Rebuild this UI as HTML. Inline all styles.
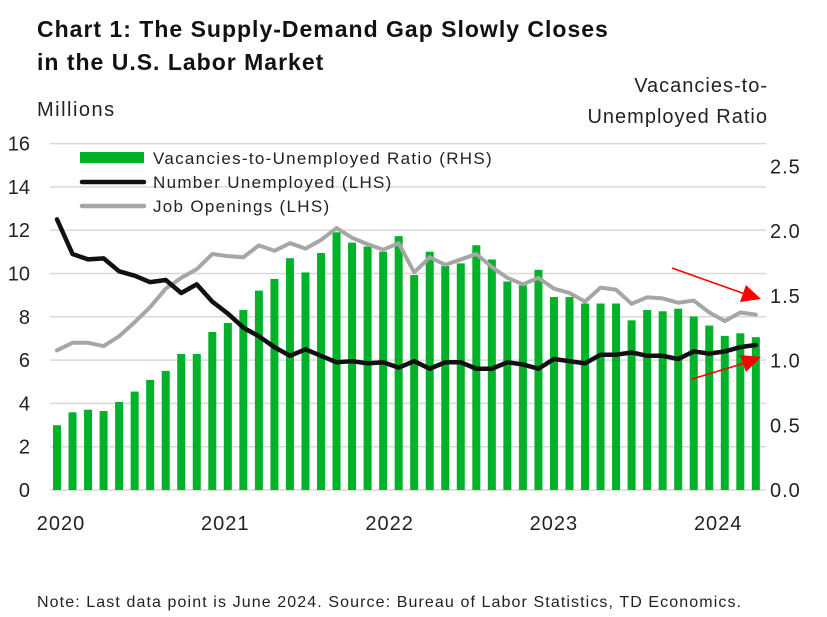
<!DOCTYPE html>
<html><head><meta charset="utf-8"><style>
body{margin:0;background:#fff;}
svg{display:block;font-family:"Liberation Sans",sans-serif;}
</style></head><body>
<svg width="827" height="617" viewBox="0 0 827 617">
<text x="37" y="37" font-size="23" font-weight="bold" letter-spacing="1" fill="#111">Chart 1: The Supply-Demand Gap Slowly Closes</text>
<text x="37" y="70" font-size="23" font-weight="bold" letter-spacing="1" fill="#111">in the U.S. Labor Market</text>
<text x="37" y="116" font-size="20" letter-spacing="1.5" fill="#222">Millions</text>
<text x="768" y="92" font-size="20" letter-spacing="1" fill="#222" text-anchor="end">Vacancies-to-</text>
<text x="768" y="123" font-size="20" letter-spacing="1" fill="#222" text-anchor="end">Unemployed Ratio</text>
<g id="grid"></g><g id="bars"></g><g id="lines"></g><g id="axes"></g>
<g>
<rect x="80" y="152" width="64" height="11" fill="#00b229"/>
<text x="153" y="164" font-size="17" letter-spacing="1.3" fill="#222">Vacancies-to-Unemployed Ratio (RHS)</text>
<line x1="82" y1="182" x2="144" y2="182" stroke="#111" stroke-width="4.5" stroke-linecap="round"/>
<text x="153" y="188" font-size="17" letter-spacing="1.3" fill="#222">Number Unemployed (LHS)</text>
<line x1="82" y1="206" x2="144" y2="206" stroke="#a6a6a6" stroke-width="4.5" stroke-linecap="round"/>
<text x="153" y="212" font-size="17" letter-spacing="1.3" fill="#222">Job Openings (LHS)</text>
</g>
<g>
<line x1="672" y1="268" x2="745" y2="294" stroke="#f00" stroke-width="1.5"/>
<polygon points="761,299 740,302 746,285" fill="#f00"/>
<line x1="692" y1="379" x2="745" y2="363" stroke="#f00" stroke-width="1.5"/>
<polygon points="761,357 746,372 740,355" fill="#f00"/>
</g>
<text x="37" y="607" font-size="16" letter-spacing="1.1" fill="#222">Note: Last data point is June 2024. Source: Bureau of Labor Statistics, TD Economics.</text>
</svg>
<script>
const ratio=[0.50,0.60,0.62,0.61,0.68,0.76,0.85,0.92,1.05,1.05,1.22,1.29,1.39,1.54,1.63,1.79,1.68,1.83,1.99,1.91,1.88,1.84,1.96,1.66,1.84,1.73,1.75,1.89,1.78,1.61,1.58,1.70,1.49,1.49,1.44,1.44,1.44,1.31,1.39,1.38,1.40,1.34,1.27,1.19,1.21,1.18];
const unemployed=[12.5,10.9,10.65,10.7,10.1,9.9,9.6,9.7,9.1,9.5,8.7,8.15,7.5,7.1,6.6,6.2,6.5,6.2,5.9,5.95,5.85,5.9,5.65,5.95,5.6,5.9,5.9,5.6,5.6,5.9,5.8,5.6,6.05,5.95,5.85,6.25,6.25,6.35,6.2,6.2,6.05,6.4,6.3,6.4,6.6,6.7];
const openings=[6.45,6.8,6.8,6.65,7.1,7.75,8.45,9.3,9.8,10.2,10.9,10.8,10.75,11.3,11.05,11.4,11.15,11.55,12.1,11.65,11.35,11.1,11.4,10.05,10.75,10.4,10.65,10.9,10.3,9.8,9.5,9.8,9.3,9.1,8.7,9.35,9.25,8.6,8.9,8.85,8.65,8.75,8.2,7.8,8.2,8.1];
const leftTicks=[0,2,4,6,8,10,12,14,16];
const rightTicks=["0.0","0.5","1.0","1.5","2.0","2.5"];
const yearLabels=["2020","2021","2022","2023","2024"];
const NS="http://www.w3.org/2000/svg";
const x=i=>57+i*15.53;
const yL=v=>490-v*21.65;
const yR=v=>490-v*129.5;
const xYear=k=>61+k*164.3;
function mk(t,a,p){const e=document.createElementNS(NS,t);for(const k in a)e.setAttribute(k,a[k]);p.appendChild(e);return e;}
const grid=document.getElementById('grid'),bars=document.getElementById('bars'),lines=document.getElementById('lines'),axes=document.getElementById('axes');
leftTicks.forEach(v=>{
 const g=mk('line',{x1:50,x2:766,y1:yL(v),y2:yL(v),stroke:'#d9d9d9','stroke-width':1.5},grid);
 
 
 const t=mk('text',{x:30,y:yL(v)+7,'font-size':20,fill:'#222','text-anchor':'end'},axes);
 t.textContent=v;
 
 
});
rightTicks.forEach(s=>{
 const t=mk('text',{x:770,y:yR(+s)+7,'font-size':20,fill:'#222','text-anchor':'start','letter-spacing':1},axes);
 t.textContent=s;
 
 
});
yearLabels.forEach((s,k)=>{
 const t=mk('text',{x:xYear(k),y:530,'font-size':20,fill:'#222','text-anchor':'middle','letter-spacing':1},axes);
 t.textContent=s;
 
 
});
ratio.forEach((r,i)=>{
 const b=mk('rect',{x:x(i)-4,y:yR(r),width:8,height:yR(0)-yR(r),fill:'#00b229'},bars);
 
 
});
function line(arr,col,name,w){
 const p=mk('polyline',{points:arr.map((v,i)=>x(i)+','+yL(v)).join(' '),fill:'none',stroke:col,'stroke-width':w,'stroke-linejoin':'round','stroke-linecap':'round'},lines);
 
 
}
line(openings,'#a6a6a6','job-openings-line',4);
line(unemployed,'#111','unemployed-line',4.5);
</script>
</body></html>
